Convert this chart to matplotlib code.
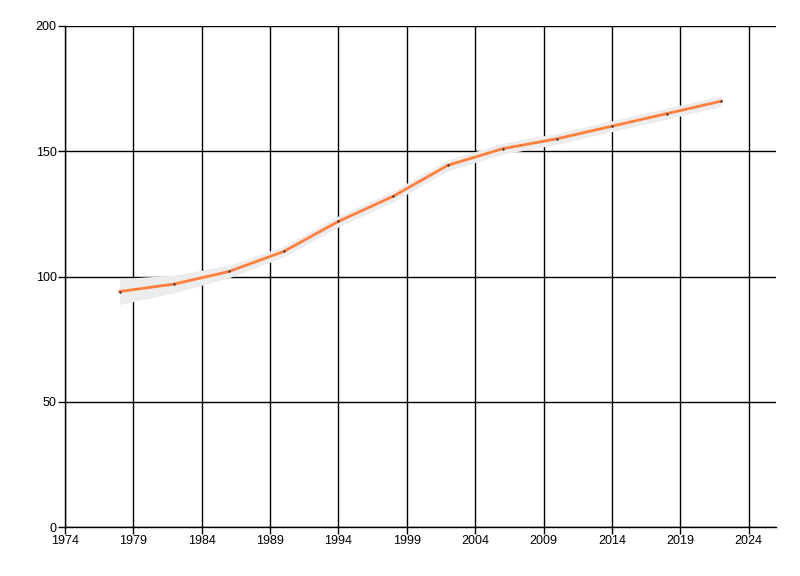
import matplotlib
matplotlib.use("Agg")
import matplotlib.pyplot as plt
import numpy as np

years = [1978, 1982, 1986, 1990, 1994, 1998, 2002, 2006, 2010, 2014, 2018, 2022]
values = [94, 97, 102, 110, 122, 132, 144.4, 151, 155, 160, 165, 170]
band_half = [5.2, 3.5, 2.5, 2.2, 2.2, 2.2, 2.2, 2.2, 2.2, 2.2, 2.2, 2.2]
xticks = [1974, 1979, 1984, 1989, 1994, 1999, 2004, 2009, 2014, 2019, 2024]
yticks = [0, 50, 100, 150, 200]

plt.rcParams['font.family'] = ['Liberation Sans', 'DejaVu Sans']

fig = plt.figure(figsize=(8, 5.76), dpi=100)
ax = fig.add_axes([65/800, 1 - 527/576, (776-65)/800, (527-26)/576])

v = np.array(values)
h = np.array(band_half)
ax.fill_between(years, v - h, v + h, color='#ececec', linewidth=0, zorder=2)
ax.plot(years, values, color='#ff7f3f', linewidth=2, zorder=3)
ax.scatter(years, values, s=3, color='#333333', zorder=4, linewidths=0)

ax.set_xlim(1974, 2026)
ax.set_ylim(0, 200)
ax.set_xticks(xticks)
ax.set_yticks(yticks)
ax.grid(True, color='black', linewidth=1, zorder=1)
ax.set_axisbelow(True)
for s in ['top', 'right']:
    ax.spines[s].set_visible(False)
for s in ['left', 'bottom']:
    ax.spines[s].set_linewidth(1)
ax.tick_params(axis='both', direction='out', length=5, width=1, labelsize=9, pad=1, color='black')

fig.savefig('out.png', dpi=100)
